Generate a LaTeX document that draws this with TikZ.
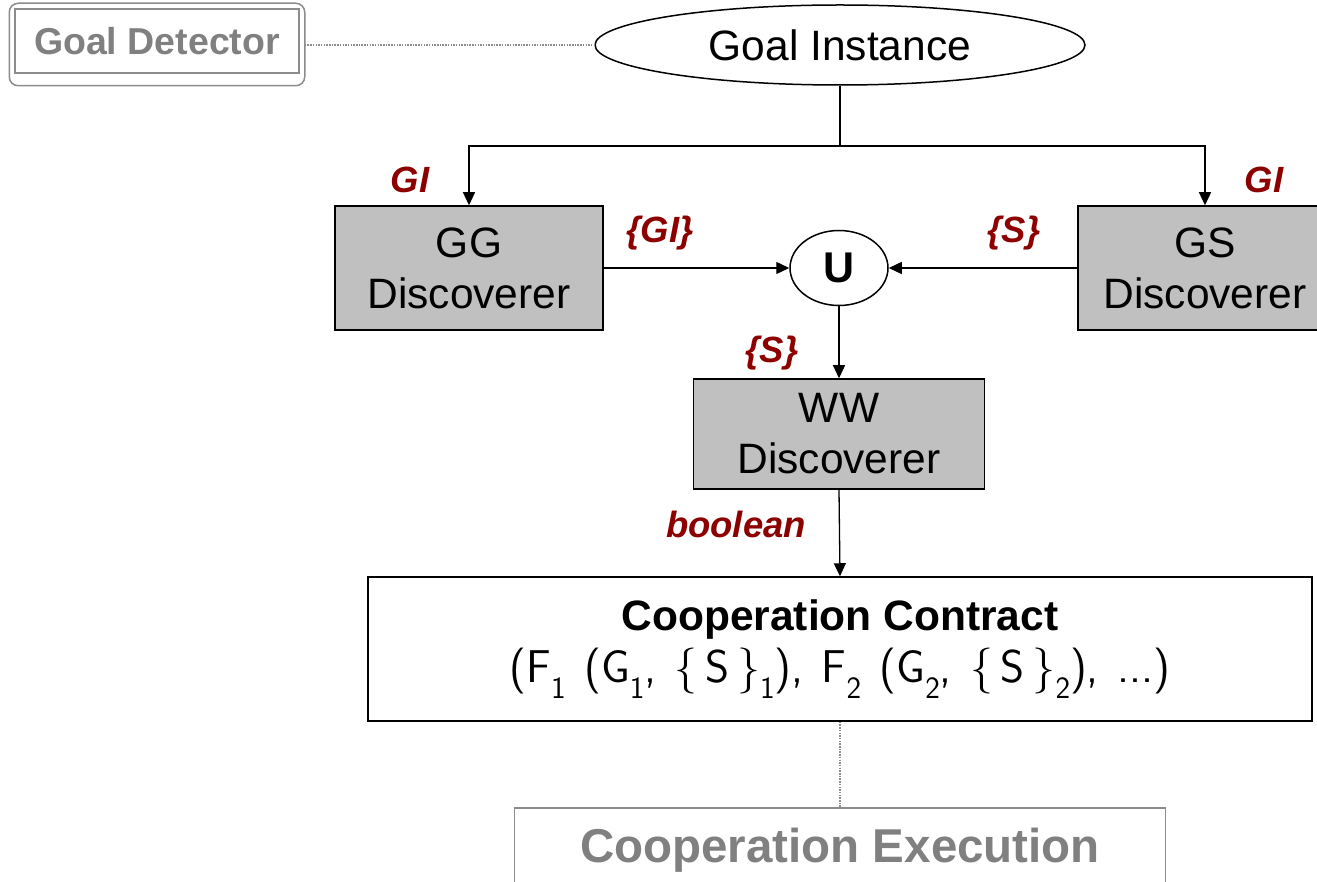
\documentclass[tikz,border=0pt]{standalone}
\usepackage{fontspec}
\setmainfont{Liberation Sans}
\usetikzlibrary{arrows.meta,shapes.geometric}
\definecolor{labelred}{RGB}{140,0,0}
\definecolor{boxgray}{RGB}{192,192,192}
\definecolor{fadedtext}{RGB}{128,128,128}
\definecolor{fadedline}{RGB}{140,140,140}
\newcommand{\fsz}[2]{\fontsize{#1}{#2}\selectfont}
\newcommand{\lowsub}[1]{\raisebox{-0.35em}{\fsz{31}{31}#1}}
\tikzset{
  box/.style={draw, line width=1.5pt, fill=boxgray, align=center, inner sep=0pt, font=\fsz{42.5}{51}},
  arr/.style={-{Triangle[length=13pt,width=12pt]}, line width=1.3pt},
  lbl/.style={text=labelred, font=\fsz{36.5}{42}\bfseries\itshape, inner sep=0pt},
  faint/.style={fadedline, line width=1.5pt, dash pattern=on 1.5pt off 1.2pt},
}
\begin{document}
\begin{tikzpicture}[x=1pt, y=-1pt]
\useasboundingbox (0,0) rectangle (1317,882);
\clip (0,0) rectangle (1317,882);

% detector (faded, double frame)
\node[draw=fadedline, line width=1.5pt, minimum width=284pt, minimum height=64pt, inner sep=0pt,
      text=fadedtext, font=\fsz{37.5}{44}\bfseries] (gd) at (157,41) {Goal Detector};
\draw[fadedline, line width=1.5pt, rounded corners=9pt]
  ([shift={(-5,-5)}]gd.north west) rectangle ([shift={(5,12)}]gd.south east);

% goal instance
\node[draw, ellipse, line width=1.5pt, minimum width=490pt, minimum height=80pt, inner sep=0pt,
      font=\fsz{42.5}{50}] (gi) at (840,45) {Goal Instance};

% discoverers
\node[box, minimum width=268pt, minimum height=124pt] (gg) at (469,268) {GG\\Discoverer};
\node[box, minimum width=254pt, minimum height=124pt] (gs) at (1205,268) {GS\\Discoverer};
\node[draw, ellipse, line width=1.5pt, minimum width=98pt, minimum height=75pt, inner sep=0pt,
      font=\fsz{43}{50}\bfseries] (u) at (839,268) {U};
\node[box, minimum width=291pt, minimum height=110pt] (ww) at (839,434) {WW\\Discoverer};

% contract and execution
\node[draw, line width=1.5pt, minimum width=944pt, minimum height=144pt, inner sep=0pt, align=center]
  (cc) at (840,649)
  {{\fsz{42.5}{50}\bfseries Cooperation Contract}\\[8pt]
   {\sffamily\fsz{46}{52}\addfontfeatures{LetterSpace=5}\spaceskip=0.4em plus 0.1em
    (F\lowsub{1} (G\lowsub{1}, \{\,S\,\}\lowsub{1}), F\lowsub{2} (G\lowsub{2}, \{\,S\,\}\lowsub{2}), ...)}};
\node[draw=fadedline, line width=1.5pt, minimum width=651pt, minimum height=84pt, inner sep=0pt,
      text=fadedtext, font=\fsz{47.5}{56}\bfseries] (ce) at (840,850) {Cooperation Execution};

% connectors
\coordinate (split) at (840,146);
\draw[line width=1.3pt] (gi.south) -- (split);
\draw[arr] (split) -| (gg.north);
\draw[arr] (split) -| (gs.north);
\draw[arr] (gg.east) -- (u.west);
\draw[arr] (gs.west) -- (u.east);
\draw[arr] (u.south) -- (ww.north);
\draw[arr] (ww.south) -- (cc.north);
\draw[faint] ([xshift=5pt]gd.east |- gi.west) -- (gi.west);
\draw[faint] (cc.south) -- (ce.north);

% flow labels
\node[lbl] (lgi1) at (410,180) {GI};
\node[lbl] (lgi2) at (1264,180) {GI};
\node[lbl] (lgiset) at (660,233) {\{GI\}};
\node[lbl] (lsset1) at (1014,233) {\{S\}};
\node[lbl] (lsset2) at (772,353) {\{S\}};
\node[lbl] (lbool) at (736,524) {boolean};
\end{tikzpicture}
\end{document}
